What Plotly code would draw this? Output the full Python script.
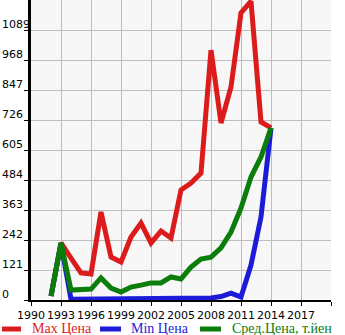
import plotly.graph_objects as go

# Price history by model year (thousand yen)
years = list(range(1992, 2015))
max_price = [16, 230, 169, 109, 105, 355, 173, 153, 254, 310, 230, 278, 250,
             444, 472, 512, 1008, 714, 859, 1158, 1205, 718, 694]
min_price = [16, 228, 3, 3, 3, 3, 3, 3, 3, 3, 6, 6, 3,
             3, 4, 4, 8, 14, 28, 12, 141, 335, 694]
avg_price = [16, 230, 40, 40, 44, 89, 48, 32, 52, 60, 69, 69, 93,
             85, 133, 165, 173, 210, 274, 371, 496, 577, 694]

x_ticks = list(range(1990, 2021, 3))
x_tick_text = [str(v) for v in x_ticks[:-1]] + [""]
y_ticks = [0, 121, 242, 363, 484, 605, 726, 847, 968, 1089]

series_names = ["Max Цена", "Min Цена", "Сред.Цена, т.йен"]
series_colors = ["#dc1c1c", "#1c1cd8", "#0a7d0a"]
series_values = [max_price, min_price, avg_price]

W, H = 345, 335
L, R, T, B = 31, 14, 0, 35
PW, PH = W - L - R, H - T - B

fig = go.Figure()
for name, color, vals in zip(series_names, series_colors, series_values):
    fig.add_trace(go.Scatter(
        x=years, y=vals, mode="lines", name=name,
        line=dict(color=color, width=5), showlegend=False,
    ))

# Left-aligned y tick labels sitting just above each gridline
annotations = []
for v in y_ticks:
    annotations.append(dict(
        x=-L / PW, xref="paper", xanchor="left",
        y=v, yref="y", yanchor="bottom", yshift=-3,
        text=str(v), showarrow=False,
        font=dict(family="DejaVu Sans", size=11, color="#000"),
    ))

# Custom legend row under the axis
shapes = []
legend_items = [(0, 23, 30), (98, 123, 129), (198, 223, 230)]
leg_line_y = (H - B - 329) / PH
leg_text_y = (H - B - 328) / PH
for (x0, x1, tx), name, color in zip(legend_items, series_names, series_colors):
    shapes.append(dict(
        type="line", xref="paper", yref="paper",
        x0=(x0 + 2 - L) / PW, x1=(x1 - 2 - L) / PW,
        y0=leg_line_y, y1=leg_line_y,
        line=dict(color=color, width=5),
    ))
    annotations.append(dict(
        x=(tx - L) / PW, xref="paper", xanchor="left",
        y=leg_text_y, yref="paper", yanchor="middle",
        text=name, showarrow=False,
        font=dict(family="Liberation Serif", size=14, color=color),
    ))

fig.update_layout(
    width=W, height=H,
    margin=dict(l=L, r=R, t=T, b=B, pad=0),
    paper_bgcolor="white", plot_bgcolor="#f7f7f7",
    showlegend=False,
    annotations=annotations, shapes=shapes,
    xaxis=dict(
        range=[1990, 2020], tickvals=x_ticks, ticktext=x_tick_text,
        tickangle=0, automargin=False,
        showgrid=True, gridcolor="#bdbdbd", gridwidth=1,
        showline=True, linecolor="#000", linewidth=2,
        ticks="outside", ticklen=4, tickcolor="#000", tickwidth=1,
        tickfont=dict(family="DejaVu Sans", size=11, color="#000"),
        zeroline=False, fixedrange=True,
    ),
    yaxis=dict(
        range=[0, 1210], tickvals=y_ticks, showticklabels=False,
        automargin=False,
        showgrid=True, gridcolor="#bdbdbd", gridwidth=1,
        showline=True, linecolor="#000", linewidth=3,
        ticks="outside", ticklen=4, tickcolor="#000", tickwidth=1,
        zeroline=False, fixedrange=True,
    ),
)

fig.write_html("out.html", config=dict(displayModeBar=False))
